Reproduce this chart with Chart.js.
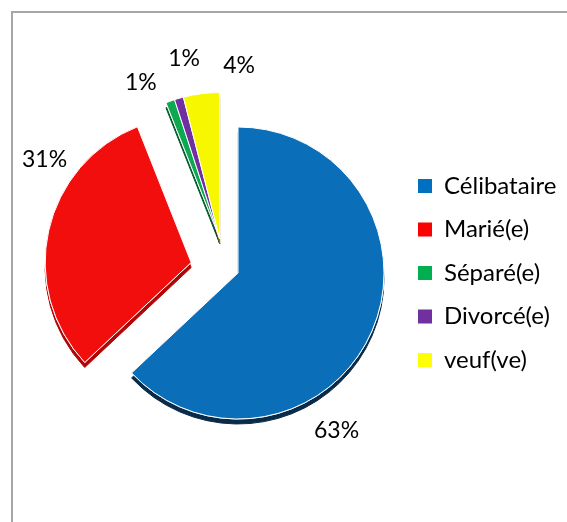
<!DOCTYPE html>
<html><head><meta charset="utf-8">
<script src="https://cdn.jsdelivr.net/npm/chart.js@4.4.0/dist/chart.umd.min.js"></script>
<style>
html,body{margin:0;padding:0;background:#fff;overflow:hidden;width:567px;height:522px;}
#frame{position:absolute;left:11px;top:11px;width:700px;height:700px;border-left:2px solid #a6a6a6;border-top:2px solid #a6a6a6;}
#c{position:absolute;left:0;top:0;}
</style></head><body>
<div id="frame"></div>
<canvas id="c" width="620" height="522"></canvas>
<script>
// ---- data ----
const categories = ['Célibataire', 'Marié(e)', 'Séparé(e)', 'Divorcé(e)', 'veuf(ve)'];
const values = [63, 31, 1, 1, 4];
const valueLabels = ['63%', '31%', '1%', '1%', '4%'];

// ---- styles ----
const faceColors = ['#0B6EB8', '#F30E0E', '#0CA94E', '#7030A0', '#F7F700'];
const rimColors = ['#0A2B47', '#B00606', '#005C2A', '#3E1560', '#7A7A00'];
const legendColors = ['#0070C0', '#FF0000', '#00B050', '#7030A0', '#FFFF00'];
const explodeDist = [0, 48, 39, 39, 39];
const explodeDir = [null, null, 332, 332, 332]; // degrees clockwise from top, null = slice middle
const labelGap = [40, 33, 29, 37, 28];
const labelTurn = [34.6, 22.4, -7, 5, 13.6];
const FONT = 'Lato';
const LABEL_SIZE = 23;
const LEGEND_SIZE = 24;
const LEGEND_PAD = 19.5;
const BOX = 14;

const CANVAS_W = 620;
const pieCenterX = 238;
const legendBoxX = 418;

// measure widest legend text to set layout so legend sits where wanted
const mctx = document.createElement('canvas').getContext('2d');
mctx.font = LEGEND_SIZE + 'px ' + FONT;
const maxText = Math.max(...categories.map(t => mctx.measureText(t).width));
const legendWidth = LEGEND_PAD + BOX + LEGEND_SIZE / 2 + maxText + 10;
const legendLeft = legendBoxX - LEGEND_PAD;
const padRight = CANVAS_W - legendLeft - legendWidth;
const padLeft = 2 * pieCenterX - legendLeft;

const explodePlugin = {
  id: 'explode',
  afterDatasetUpdate(chart, args) {
    args.meta.data.forEach((arc, i) => {
      const d = explodeDist[i] || 0;
      if (!d) return;
      let a;
      if (explodeDir[i] == null) a = (arc.startAngle + arc.endAngle) / 2;
      else a = explodeDir[i] * Math.PI / 180 - Math.PI / 2;
      arc.x += d * Math.cos(a);
      arc.y += d * Math.sin(a);
    });
  }
};

const rimPlugin = {
  id: 'rim',
  beforeDatasetsDraw(chart) {
    const ctx = chart.ctx;
    chart.getDatasetMeta(0).data.forEach((arc, i) => {
      ctx.save();
      ctx.shadowColor = rimColors[i];
      ctx.shadowOffsetX = 0;
      ctx.shadowOffsetY = 5;
      ctx.shadowBlur = 0;
      arc.draw(ctx);
      ctx.restore();
    });
  }
};

const labelPlugin = {
  id: 'pctLabels',
  afterDatasetsDraw(chart) {
    const ctx = chart.ctx;
    ctx.save();
    ctx.font = LABEL_SIZE + 'px ' + FONT;
    ctx.fillStyle = '#000';
    ctx.textAlign = 'center';
    ctx.textBaseline = 'middle';
    chart.getDatasetMeta(0).data.forEach((arc, i) => {
      const mid = ((arc.startAngle + arc.endAngle) / 2 + Math.PI / 2) * 180 / Math.PI;
      const ang = (mid + labelTurn[i]) * Math.PI / 180;
      const r = arc.outerRadius + labelGap[i];
      ctx.fillText(valueLabels[i], arc.x + r * Math.sin(ang), arc.y - r * Math.cos(ang));
    });
    ctx.restore();
  }
};

new Chart(document.getElementById('c'), {
  type: 'pie',
  data: {
    labels: categories,
    datasets: [{
      data: values,
      backgroundColor: faceColors,
      borderColor: '#ffffff',
      borderWidth: 1
    }]
  },
  options: {
    responsive: false,
    devicePixelRatio: 1,
    animation: false,
    events: [],
    radius: 146,
    layout: { padding: { left: padLeft, top: 38, bottom: 14, right: padRight } },
    plugins: {
      tooltip: { enabled: false },
      legend: {
        position: 'right',
        labels: {
          font: { family: FONT, size: LEGEND_SIZE },
          color: '#000',
          boxWidth: BOX,
          boxHeight: BOX,
          padding: LEGEND_PAD,
          generateLabels: () => categories.map((t, i) => ({
            text: t, fillStyle: legendColors[i], strokeStyle: legendColors[i],
            lineWidth: 0, hidden: false, index: i, fontColor: '#000'
          }))
        }
      }
    }
  },
  plugins: [explodePlugin, rimPlugin, labelPlugin]
});
</script>
</body></html>
